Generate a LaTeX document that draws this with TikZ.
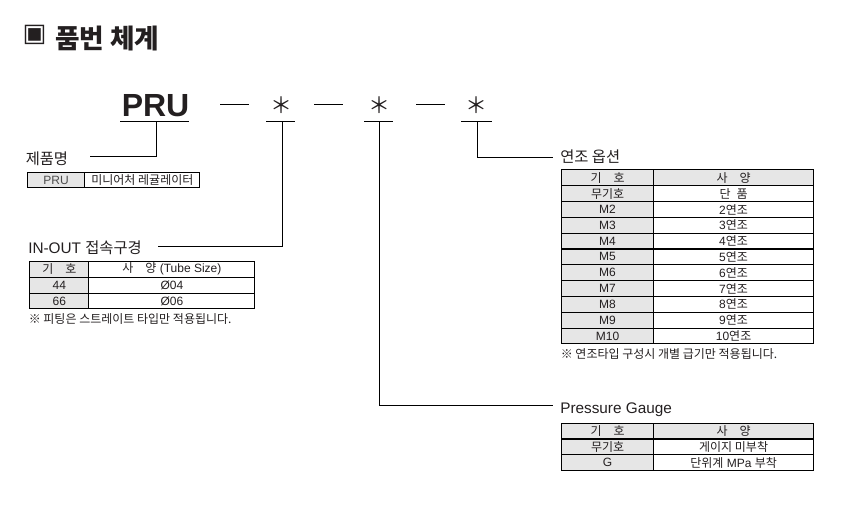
\documentclass[tikz,border=0pt]{standalone}
\usepackage{fontspec}
\setmainfont{Liberation Sans}
\newfontfamily\kr{Noto Sans CJK KR}
\newfontfamily\dv{DejaVu Sans}
\newcommand\kt[1]{{\kr #1}}
\definecolor{cellgray}{HTML}{E6E6E6}
\definecolor{txt}{HTML}{231F20}
\newcommand\cellnode[7]{\node[cell,fill=#6,minimum width=#4*0.75pt,minimum height=#5*0.75pt] (#1) at (#2,#3) {#7};}
\begin{document}
\begin{tikzpicture}[x=0.75pt,y=-0.75pt,
  cell/.style={draw=black,line width=0.85pt,inner sep=0pt,anchor=north west,text=txt,font=\fontsize{9}{10}\selectfont},
  lab/.style={inner sep=0pt,anchor=west,text=txt,font=\fontsize{11.5}{13}\selectfont},
  note/.style={inner sep=0pt,anchor=west,text=txt,font=\fontsize{9}{10}\selectfont},
  conn/.style={draw=black,line width=0.75pt},
  star/.style={inner sep=0pt,text=txt,font=\fontsize{16.5}{18}\selectfont}]
\useasboundingbox (0,0) rectangle (863,514);

% title
\node[inner sep=0pt,text=txt,font=\fontsize{19}{21}\selectfont] (sq) at (34.5,34.5) {\dv ▣};
\node[inner sep=0pt,anchor=west,text=txt,font=\bfseries\fontsize{20}{22}\selectfont] (title) at (55,38) {\kt{품번 체계}};

% code line
\node[inner sep=0pt,anchor=base west,text=txt,font=\bfseries\fontsize{24}{26}\selectfont] (pru) at (121.5,116.7) {PRU};
\node[star] (s1) at (281,105.5) {\kt{＊}};
\node[star] (s2) at (379.3,105.5) {\kt{＊}};
\node[star] (s3) at (476.7,105.5) {\kt{＊}};

\coordinate (d1a) at (220,104.3); \coordinate (d1b) at (249,104.3);
\coordinate (d2a) at (314,104.3); \coordinate (d2b) at (343.3,104.3);
\coordinate (d3a) at (416,104.3); \coordinate (d3b) at (445,104.3);
\draw[conn] (d1a) -- (d1b);
\draw[conn] (d2a) -- (d2b);
\draw[conn] (d3a) -- (d3b);

% underlines
\coordinate (p0a) at (120,121); \coordinate (p0b) at (189,121);
\coordinate (p1a) at (266,121); \coordinate (p1b) at (295,121);
\coordinate (p2a) at (364,121); \coordinate (p2b) at (392.7,121);
\coordinate (p3a) at (461,121); \coordinate (p3b) at (491.7,121);
\draw[conn] (p0a) -- (p0b);
\draw[conn] (p1a) -- (p1b);
\draw[conn] (p2a) -- (p2b);
\draw[conn] (p3a) -- (p3b);

% connectors
\coordinate (u0) at (156.7,121); \coordinate (c0) at (90,156.7);
\coordinate (u1) at (282.3,121); \coordinate (c1) at (158.3,246.7);
\coordinate (u2) at (379.3,121); \coordinate (c2) at (553,405);
\coordinate (u3) at (477.3,121); \coordinate (c3) at (553,157);
\draw[conn] (u0) |- (c0);
\draw[conn] (u1) |- (c1);
\draw[conn] (u2) |- (c2);
\draw[conn] (u3) |- (c3);

% labels
\node[lab] (l0) at (25.5,159) {\kt{제품명}};
\node[lab] (l1) at (28,247.5) {IN-OUT \kt{접속구경}};
\node[lab] (l2) at (560,157) {\kt{연조 옵션}};
\node[lab] (l3) at (560,410) {Pressure Gauge};

% PRU table
\cellnode{t0a}{26.7}{172}{57.6}{15.3}{cellgray}{\textcolor{black!70}{PRU}}
\cellnode{t0b}{84.3}{172}{115}{15.3}{white}{\kt{미니어처 레귤레이터}}

% IN-OUT table
\cellnode{t1ha}{29.3}{260.7}{59}{16}{cellgray}{\kt{기\quad 호}}
\cellnode{t1hb}{88.3}{260.7}{166}{16}{white}{\kt{사\quad 양} (Tube Size)}
\cellnode{t1aa}{29.3}{276.7}{59}{16}{cellgray}{44}
\cellnode{t1ab}{88.3}{276.7}{166}{16}{white}{Ø04}
\cellnode{t1ba}{29.3}{292.7}{59}{15.3}{cellgray}{66}
\cellnode{t1bb}{88.3}{292.7}{166}{15.3}{white}{Ø06}
\node[note] (n1) at (28.5,319) {\kt{※ 피팅은 스트레이트 타입만 적용됩니다.}};

% 연조 table
\cellnode{t2ha}{560.7}{169.3}{92.6}{15.82}{cellgray}{\kt{기\quad 호}}
\cellnode{t2hb}{653.3}{169.3}{159.4}{15.82}{cellgray}{\kt{사\quad 양}}
\cellnode{t2aa}{560.7}{185.12}{92.6}{15.82}{cellgray}{\kt{무기호}}
\cellnode{t2ab}{653.3}{185.12}{159.4}{15.82}{white}{\kt{단\enspace 품}}
\foreach \i in {2,...,10}{
  \pgfmathsetmacro\yy{169.3+15.82*\i}
  \cellnode{t2r\i a}{560.7}{\yy}{92.6}{15.82}{cellgray}{M\i}
  \cellnode{t2r\i b}{653.3}{\yy}{159.4}{15.82}{white}{\i\kt{연조}}
}
\node[note] (n2) at (560.5,354) {\kt{※ 연조타입 구성시 개별 급기만 적용됩니다.}};

% Pressure gauge table
\cellnode{t3ha}{560.7}{422.7}{92.6}{15.7}{cellgray}{\kt{기\quad 호}}
\cellnode{t3hb}{653.3}{422.7}{159.4}{15.7}{cellgray}{\kt{사\quad 양}}
\cellnode{t3aa}{560.7}{438.4}{92.6}{15.7}{cellgray}{\kt{무기호}}
\cellnode{t3ab}{653.3}{438.4}{159.4}{15.7}{white}{\kt{게이지 미부착}}
\cellnode{t3ba}{560.7}{454.1}{92.6}{15.9}{cellgray}{G}
\cellnode{t3bb}{653.3}{454.1}{159.4}{15.9}{white}{\kt{단위계} MPa \kt{부착}}
\end{tikzpicture}
\end{document}
